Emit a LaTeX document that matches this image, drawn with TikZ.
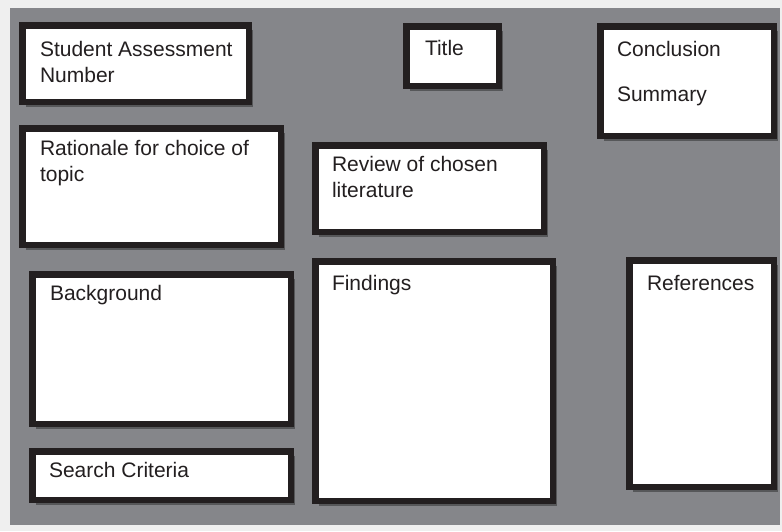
\documentclass[tikz,border=0pt]{standalone}
\usepackage{fontspec}
\setmainfont{Liberation Sans}
\usetikzlibrary{shadows}
\definecolor{pagebg}{HTML}{EFEFEF}
\definecolor{panel}{HTML}{85868A}
\definecolor{ink}{HTML}{231F20}
\tikzset{
  box/.style={draw=ink, line width=6.5pt, fill=white, rectangle, inner sep=0pt, outer sep=0pt, anchor=north west,
    drop shadow={shadow xshift=4pt, shadow yshift=-5pt, opacity=0.35, fill=black}},
  lbl/.style={inner sep=0pt, outer sep=0pt, anchor=base west, align=left, text=ink,
    font=\fontsize{21}{26}\selectfont},
}
\begin{document}
\begin{tikzpicture}[x=1pt,y=-1pt]
\useasboundingbox (0,0) rectangle (782,531);
\fill[pagebg] (0,0) rectangle (782,531);
\fill[panel] (10,8) rectangle (780,525);
% boxes: outer bounds L,T,R,B -> path at L+3.25,T+3.25, size (R-L-6.5) x (B-T-6.5)
\node[box, minimum width=226.5pt, minimum height=76.5pt] (san) at (22.25,25.25) {};
\node[box, minimum width=92.5pt, minimum height=59.5pt] (title) at (406.25,26.25) {};
\node[box, minimum width=173.5pt, minimum height=109.5pt] (concl) at (600.25,26.25) {};
\node[box, minimum width=258.5pt, minimum height=116.5pt] (rat) at (22.25,128.25) {};
\node[box, minimum width=228.5pt, minimum height=86.5pt] (rev) at (315.25,145.25) {};
\node[box, minimum width=237.5pt, minimum height=239.5pt] (find) at (315.25,261.25) {};
\node[box, minimum width=258.5pt, minimum height=149.5pt] (bg) at (32.25,274.25) {};
\node[box, minimum width=258.5pt, minimum height=48.5pt] (search) at (32.25,451.25) {};
\node[box, minimum width=144.5pt, minimum height=226.5pt] (refs) at (629.25,260.25) {};
% labels (multi-line: base anchor is the last line's baseline)
\node[lbl] (sanT) at (40,82) {Student Assessment\\Number};
\node[lbl] (titleT) at (425,55) {Title};
\node[lbl] (conclT) at (617,56) {Conclusion};
\node[lbl] (summT) at (617,101) {Summary};
\node[lbl] (ratT) at (40,181) {Rationale for choice of\\topic};
\node[lbl] (revT) at (332,197) {Review of chosen\\literature};
\node[lbl] (findT) at (332,290) {Findings};
\node[lbl] (bgT) at (50,300) {Background};
\node[lbl] (searchT) at (49,477) {Search Criteria};
\node[lbl] (refsT) at (647,290) {References};
\end{tikzpicture}
\end{document}
